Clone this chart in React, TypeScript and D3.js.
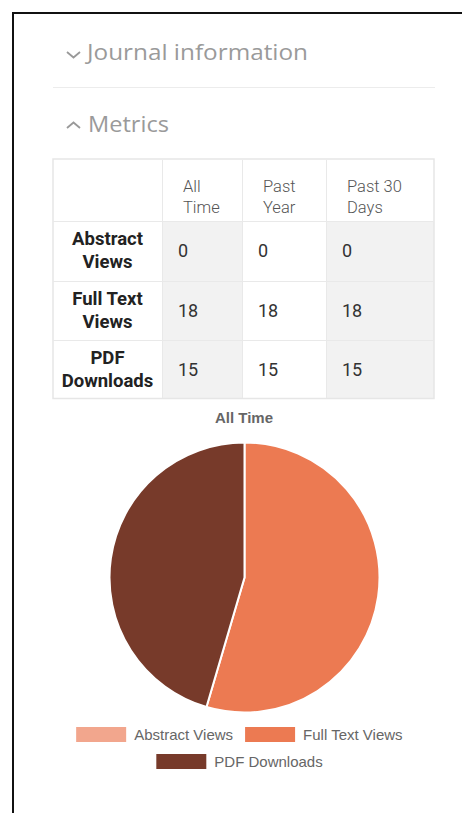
import React from "react";
import * as d3 from "d3";

const rowLabels = [["Abstract", "Views"], ["Full Text", "Views"], ["PDF", "Downloads"]];
const colLabels = [["All", "Time"], ["Past", "Year"], ["Past 30", "Days"]];
const allTime = [0, 18, 15];
const pastYear = [0, 18, 15];
const past30 = [0, 18, 15];
const seriesNames = ["Abstract Views", "Full Text Views", "PDF Downloads"];
const seriesColors = ["#F2A68D", "#EC7A52", "#773A2A"];
const legendRows = [[0, 1], [2]];

const W = 462, H = 813;

function measure(text: string, font: string) {
  const c = document.createElement("canvas").getContext("2d");
  if (!c) return text.length * 7;
  c.font = font;
  return c.measureText(text).width;
}

export default function App() {
  const tableValues = [allTime, pastYear, past30];
  const colX = [53, 162, 242, 326, 434];
  const rowY = [160, 221, 281, 340, 398];

  const pie = d3.pie<number>().sort(null).value((d) => d)(allTime);
  const cx = 244.5, cy = 577.5, r = 135;
  const arc = d3.arc<d3.PieArcDatum<number>>().innerRadius(0).outerRadius(r);

  const legendFont = "15px 'Liberation Sans', Arial, sans-serif";
  const sw = 50, gap = 8, itemPad = 12;
  const legendCenter = 239.5;

  return (
    <svg width={W} height={H} style={{ position: "absolute", left: 0, top: 0, background: "#fff" }}>
      <rect x={13} y={13} width={W} height={H} fill="#fff" stroke="#111" strokeWidth={2} />

      {/* accordion headers */}
      <path d="M67,52 L73.5,57.5 L80,52" fill="none" stroke="#999" strokeWidth={1.8} />
      <text x={87} y={60} fontFamily="'Open Sans', sans-serif" fontSize={21} fill="#9a9a9a" textLength={221} lengthAdjust="spacingAndGlyphs">
        Journal information
      </text>
      <line x1={53} x2={435} y1={87.5} y2={87.5} stroke="#ececec" strokeWidth={1} />
      <path d="M67,128 L73.5,122.5 L80,128" fill="none" stroke="#999" strokeWidth={1.8} />
      <text x={88} y={132} fontFamily="'Open Sans', sans-serif" fontSize={21} fill="#9a9a9a" textLength={81} lengthAdjust="spacingAndGlyphs">
        Metrics
      </text>

      {/* table */}
      <g>
        {[0, 1, 2].map((ri) =>
          [1, 2, 3].map((ci) => (
            <rect key={`c${ri}-${ci}`} x={colX[ci]} y={rowY[ri + 1]} width={colX[ci + 1] - colX[ci]} height={rowY[ri + 2] - rowY[ri + 1]}
              fill={ci === 2 ? "#ffffff" : "#f2f2f2"} />
          ))
        )}
        <rect x={53} y={159} width={381} height={239.5} fill="none" stroke="#e6e6e6" strokeWidth={1.5} />
        {rowY.slice(1, 4).map((y, i) => (
          <line key={`h${i}`} x1={53} x2={434} y1={y + 0.5} y2={y + 0.5} stroke="#e9e9e9" />
        ))}
        {colX.slice(1, 4).map((x, i) => (
          <line key={`v${i}`} x1={x + 0.5} x2={x + 0.5} y1={160} y2={398} stroke="#e9e9e9" />
        ))}
        {colLabels.map((lines, ci) => (
          <text key={`cl${ci}`} x={colX[ci + 1] + 21} y={192} fontFamily="Roboto, sans-serif" fontWeight={300} fontSize={16.5} fill="#555">
            {lines.map((l, li) => (
              <tspan key={li} x={colX[ci + 1] + 21} dy={li === 0 ? 0 : 21}>{l}</tspan>
            ))}
          </text>
        ))}
        {rowLabels.map((lines, ri) => (
          <text key={`rl${ri}`} x={107.5} y={rowY[ri + 1] + 24} textAnchor="middle" fontFamily="Roboto, sans-serif" fontWeight={700} fontSize={18.5} fill="#222">
            {lines.map((l, li) => (
              <tspan key={li} x={107.5} dy={li === 0 ? 0 : 23}>{l}</tspan>
            ))}
          </text>
        ))}
        {tableValues.map((col, ci) =>
          col.map((v, ri) => (
            <text key={`v${ci}-${ri}`} x={colX[ci + 1] + 16} y={rowY[ri + 1] + 36} fontFamily="Roboto, sans-serif" fontSize={18} fill="#333">
              {v}
            </text>
          ))
        )}
      </g>

      {/* pie */}
      <text x={244} y={423} textAnchor="middle" fontFamily="'Liberation Sans', Arial, sans-serif" fontWeight={700} fontSize={15} fill="#666">
        All Time
      </text>
      <g transform={`translate(${cx},${cy})`}>
        {pie.map((d, i) =>
          d.value > 0 ? (
            <path key={i} d={arc(d) || ""} fill={seriesColors[i]} stroke="#fff" strokeWidth={2} />
          ) : null
        )}
      </g>

      {/* legend */}
      {legendRows.map((row, ri) => {
        const widths = row.map((i) => sw + gap + measure(seriesNames[i], legendFont));
        const total = widths.reduce((a, b) => a + b, 0) + itemPad * (row.length - 1);
        let x = legendCenter - total / 2;
        const y = 727 + ri * 27;
        return row.map((i, k) => {
          const x0 = x;
          x += widths[k] + itemPad;
          return (
            <g key={`lg${i}`}>
              <rect x={x0} y={y} width={sw} height={15} fill={seriesColors[i]} />
              <text x={x0 + sw + gap} y={y + 12.5} fontFamily="'Liberation Sans', Arial, sans-serif" fontSize={15} fill="#666">
                {seriesNames[i]}
              </text>
            </g>
          );
        });
      })}
    </svg>
  );
}
